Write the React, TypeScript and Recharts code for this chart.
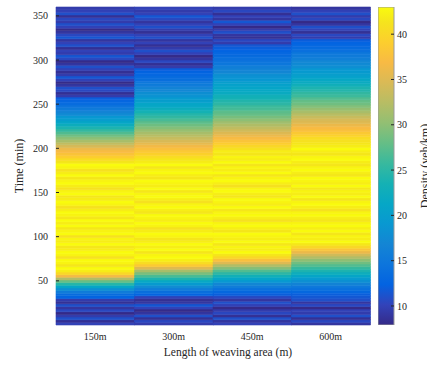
import { BarChart, Bar, XAxis, YAxis, Cell } from "recharts";

// weaving area lengths (x categories)
const lengths = ["150m", "300m", "450m", "600m"];

// each row of the heat map covers 3 minutes, rows go from 0 min (first) to 360 min (last)
const binMinutes = 3;

const timeTicks = [50, 100, 150, 200, 250, 300, 350];
const densityTicks = [10, 15, 20, 25, 30, 35, 40];
const densityMin = 7.9;
const densityMax = 43;

// density (veh/km) per 3-minute row, bottom to top
const density150 = [
  10, 8.5, 11, 9.5, 8, 10.5, 9, 11, 8.5, 9.5,
  12.5, 13.5, 15.5, 18, 21, 24.5, 28, 32, 36.5, 40,
  42, 43, 41.5, 42.5, 43, 41, 42.5, 43, 42, 41.5,
  43, 42, 42.5, 41, 43, 42.5, 41.5, 43, 42, 43,
  41.5, 42.5, 43, 42, 41, 42.5, 43, 42, 41.5, 43,
  42.5, 41, 42, 43, 42.5, 41.5, 43, 42, 41, 42.5,
  43, 41.5, 40.5, 39, 38, 37, 36, 34.5, 33, 31.5,
  30, 28.5, 27, 25.5, 24, 22.5, 21, 20, 19, 17.5,
  16.5, 15.5, 14.5, 13.5, 13, 12, 9.5, 8.5, 10.5, 11,
  9, 8, 10, 11.5, 9.5, 8.5, 10, 11, 9, 8,
  10.5, 11.5, 9.5, 10, 8.5, 11, 10, 9, 11.5, 10.5,
  9, 8, 10, 11, 9.5, 10.5, 8.5, 11, 10, 9.5,
];

const density300 = [
  9.5, 10.5, 8.5, 11, 9, 8, 10, 11.5, 9, 8.5,
  10, 12.5, 14, 15.5, 17.5, 19.5, 21.5, 24, 26.5, 29,
  31.5, 35, 38.5, 40.5, 42, 43, 42.5, 41.5, 43, 42,
  43, 42, 41.5, 42.5, 43, 42, 41, 42.5, 43, 42,
  42.5, 43, 41.5, 42, 43, 42.5, 41, 42, 43, 42.5,
  41.5, 43, 42, 42.5, 43, 41.5, 42, 43, 42.5, 41.5,
  43, 42, 41.5, 40.5, 39.5, 38.5, 37.5, 36.5, 35.5, 34.5,
  33.5, 32.5, 31.5, 30.5, 29.5, 28.5, 27.5, 26.5, 25.5, 24.5,
  23.5, 22.5, 21.5, 21, 20, 19.5, 18.5, 18, 17, 16.5,
  15.5, 15, 14, 13.5, 13, 12.5, 12, 9.5, 8.5, 10.5,
  9, 8, 10, 11, 9.5, 8.5, 10, 9, 11, 10,
  8.5, 9.5, 11, 10, 9, 10.5, 11.5, 10, 9.5, 10,
];

const density450 = [
  10, 9, 11, 8.5, 10.5, 9.5, 8, 10, 11, 9,
  10.5, 12, 13, 14, 15.5, 17, 19, 21, 23, 25,
  27, 29.5, 32, 35, 37.5, 40, 41.5, 43, 42, 42.5,
  41.5, 43, 42, 42.5, 43, 41.5, 42, 43, 42.5, 41,
  42, 43, 42.5, 41.5, 43, 42, 42.5, 43, 41.5, 42,
  43, 42.5, 41, 42, 43, 42.5, 41.5, 43, 42, 42.5,
  41.5, 43, 42, 42.5, 41.5, 42, 41, 40, 39, 38,
  37, 36, 35, 34, 33, 32, 31, 30, 29, 28,
  27.5, 26.5, 26, 25, 24.5, 23.5, 23, 22, 21.5, 21,
  20.5, 20, 19, 18.5, 18, 17, 16.5, 16, 15, 14.5,
  14, 13.5, 13, 12.5, 12, 11.5, 9.5, 10.5, 8.5, 9,
  11, 9.5, 8, 10, 11.5, 9, 10, 8.5, 10.5, 9.5,
];

const density600 = [
  9, 10.5, 8.5, 11, 9.5, 10, 8, 10.5, 9, 11,
  11.5, 12, 13, 14, 15, 16.5, 18, 19.5, 21, 22.5,
  24, 25.5, 27, 28.5, 30, 32, 34, 36, 38, 40,
  41.5, 43, 42, 42.5, 41.5, 43, 42, 43, 42.5, 41.5,
  42, 43, 42.5, 41, 42, 43, 42.5, 41.5, 43, 42,
  42.5, 41.5, 43, 42, 42.5, 43, 41.5, 42, 43, 42.5,
  41.5, 42, 43, 42.5, 41.5, 42, 43, 42, 41.5, 41,
  40.5, 39.5, 38.5, 37.5, 37, 36, 35, 34.5, 33.5, 32.5,
  31.5, 30.5, 29.5, 28.5, 28, 27, 26, 25.5, 24.5, 24,
  23, 22, 21.5, 20.5, 20, 19.5, 19, 18, 17.5, 17,
  16, 15.5, 15, 14, 13.5, 13, 12.5, 12, 9.5, 10.5,
  8.5, 10, 11, 9, 8, 10.5, 9.5, 11, 10, 9,
];

const densityByLength = [density150, density300, density450, density600];

// MATLAB parula, sampled
const PARULA: [number, number, number][] = [
  [53, 42, 135],
  [50, 67, 186],
  [3, 99, 225],
  [13, 117, 220],
  [20, 133, 212],
  [9, 152, 209],
  [6, 167, 198],
  [21, 177, 180],
  [56, 185, 158],
  [101, 190, 134],
  [146, 191, 115],
  [183, 189, 100],
  [217, 186, 86],
  [248, 186, 68],
  [252, 206, 46],
  [245, 228, 29],
  [249, 251, 14],
];
const PARULA_POS = [0, 4, 8, 12, 16, 20, 24, 28, 32, 36, 40, 44, 48, 52, 56, 60, 63].map((i) => i / 63);

function rgb(c: number[]) {
  return `rgb(${Math.round(c[0])},${Math.round(c[1])},${Math.round(c[2])})`;
}

function parula(v: number) {
  const t = Math.min(1, Math.max(0, (v - densityMin) / (densityMax - densityMin)));
  for (let i = 1; i < PARULA_POS.length; i++) {
    if (t <= PARULA_POS[i]) {
      const f = (t - PARULA_POS[i - 1]) / (PARULA_POS[i] - PARULA_POS[i - 1]);
      const a = PARULA[i - 1];
      const b = PARULA[i];
      return rgb([a[0] + (b[0] - a[0]) * f, a[1] + (b[1] - a[1]) * f, a[2] + (b[2] - a[2]) * f]);
    }
  }
  return rgb(PARULA[PARULA.length - 1]);
}

const rowKeys = density150.map((_, i) => `t${i}`);

const chartData = lengths.map((len) => {
  const row: Record<string, string | number> = { len };
  rowKeys.forEach((k) => {
    row[k] = binMinutes;
  });
  return row;
});

const scaleData = [{ name: "density", range: [densityMin, densityMax] }];

const font = "'Liberation Serif', 'Times New Roman', serif";
const textColor = "#262626";

export default function App() {
  return (
    <div
      style={{
        position: "absolute",
        left: 0,
        top: 0,
        width: 427,
        height: 365,
        overflow: "hidden",
        background: "#fff",
        fontFamily: font,
      }}
    >
      <div style={{ position: "absolute", left: 0, top: 0 }}>
        <BarChart
          width={427}
          height={365}
          data={chartData}
          margin={{ top: 7, right: 57, left: 0, bottom: 0 }}
          barCategoryGap={0}
          barGap={0}
        >
          <XAxis
            dataKey="len"
            height={40}
            tickLine={false}
            axisLine={false}
            tickSize={0}
            tickMargin={8}
            tick={{ fontSize: 10, fill: textColor, fontFamily: font }}
            label={{
              value: "Length of weaving area (m)",
              position: "insideBottom",
              offset: 9,
              dx: 15,
              style: { fontSize: 11.5, fill: textColor, fontFamily: font },
            }}
          />
          <YAxis
            type="number"
            domain={[0, 360]}
            ticks={timeTicks}
            width={56}
            axisLine={false}
            tickSize={-3}
            tickMargin={11}
            tickLine={{ stroke: textColor }}
            tick={{ fontSize: 10, fill: textColor, fontFamily: font }}
            label={{
              value: "Time (min)",
              angle: -90,
              position: "center",
              dx: -9,
              style: { fontSize: 12, fill: textColor, fontFamily: font },
            }}
          />
          {rowKeys.map((k, i) => (
            <Bar key={k} dataKey={k} stackId="time" isAnimationActive={false}>
              {densityByLength.map((col, j) => (
                <Cell key={j} fill={parula(col[i])} stroke={parula(col[i])} strokeWidth={0.6} />
              ))}
            </Bar>
          ))}
        </BarChart>
      </div>

      <div style={{ position: "absolute", left: 378, top: 0 }}>
        <BarChart
          width={78}
          height={365}
          data={scaleData}
          margin={{ top: 7, right: 0, left: 0, bottom: 40 }}
          barCategoryGap={0}
        >
          <defs>
            <linearGradient id="parulaGrad" x1="0" y1="1" x2="0" y2="0">
              {PARULA.map((c, i) => (
                <stop key={i} offset={PARULA_POS[i]} stopColor={rgb(c)} />
              ))}
            </linearGradient>
          </defs>
          <XAxis dataKey="name" hide />
          <YAxis
            orientation="right"
            type="number"
            domain={[densityMin, densityMax]}
            allowDataOverflow
            ticks={densityTicks}
            width={62}
            axisLine={false}
            tickSize={-3}
            tickMargin={6}
            tickLine={{ stroke: textColor }}
            tick={{ fontSize: 10, fill: textColor, fontFamily: font, textAnchor: "start" }}
            label={{
              value: "Density (veh/km)",
              angle: -90,
              position: "center",
              style: { fontSize: 12, fill: textColor, fontFamily: font },
            }}
          />
          <Bar dataKey="range" fill="url(#parulaGrad)" stroke="#9a9a9a" strokeWidth={1} isAnimationActive={false} />
        </BarChart>
      </div>
    </div>
  );
}
